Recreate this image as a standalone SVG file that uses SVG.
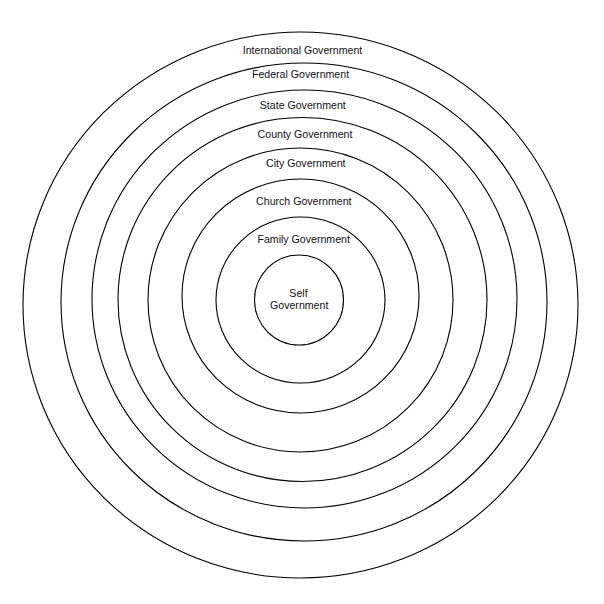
<svg xmlns="http://www.w3.org/2000/svg" width="604" height="604" viewBox="0 0 604 604">
<style>
.ring{fill:none;stroke:#000;stroke-width:1.1}
.lbl{font-family:"Liberation Sans",Arial,sans-serif;font-size:10.6px;fill:#111;text-anchor:middle}
</style>
<rect width="604" height="604" fill="#fff"/>
<g id="international"><ellipse class="ring" cx="300.5" cy="305" rx="277.5" ry="273"/><text class="lbl" x="302.5" y="53.5">International Government</text></g>
<g id="federal"><ellipse class="ring" cx="304" cy="302" rx="243" ry="239"/><text class="lbl" x="300.5" y="78">Federal Government</text></g>
<g id="state"><ellipse class="ring" cx="304.5" cy="299" rx="212.5" ry="209"/><text class="lbl" x="302.8" y="108.5">State Government</text></g>
<g id="county"><ellipse class="ring" cx="302.5" cy="299.5" rx="184.5" ry="182"/><text class="lbl" x="305" y="137.5">County Government</text></g>
<g id="city"><ellipse class="ring" cx="300.5" cy="300" rx="152.5" ry="152"/><text class="lbl" x="305.8" y="167">City Government</text></g>
<g id="church"><ellipse class="ring" cx="300.5" cy="296" rx="118.5" ry="117"/><text class="lbl" x="303.8" y="204.5">Church Government</text></g>
<g id="family"><ellipse class="ring" cx="300.5" cy="300" rx="84.5" ry="83"/><text class="lbl" x="303.7" y="243">Family Government</text></g>
<g id="self"><ellipse class="ring" cx="299" cy="300" rx="44.5" ry="45"/><text class="lbl" x="298.5" y="296.5">Self</text><text class="lbl" x="299.2" y="308.5">Government</text></g>
<g id="connectors"/>
</svg>
